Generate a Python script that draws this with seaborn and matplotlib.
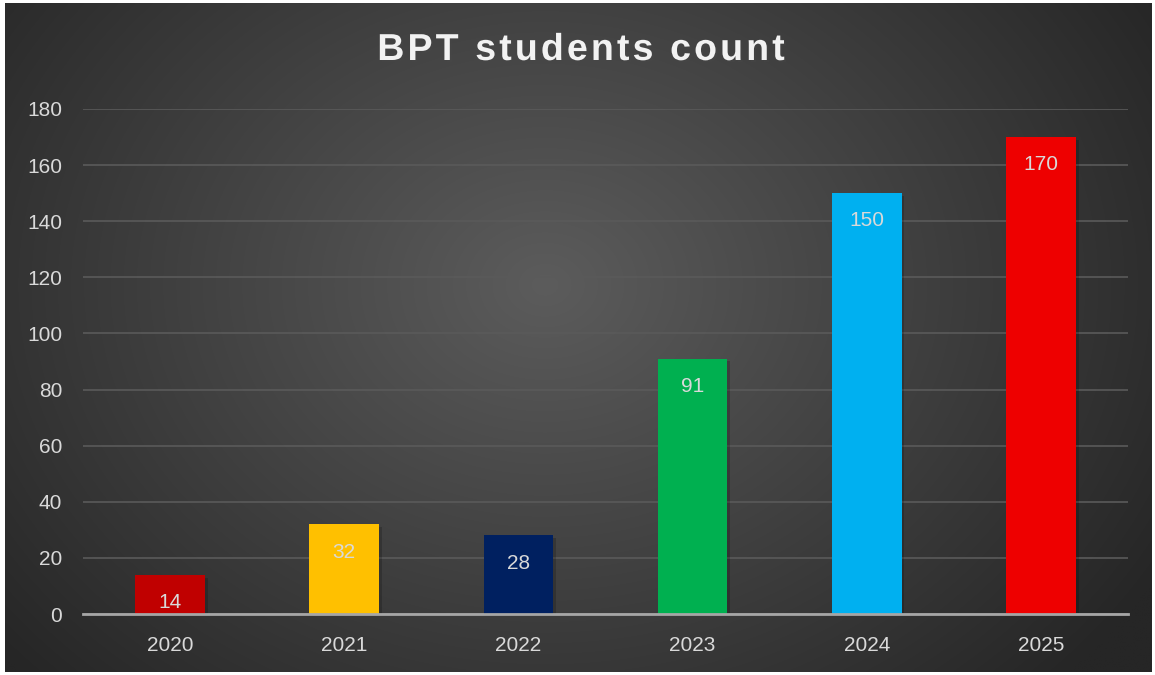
import numpy as np
import pandas as pd
import matplotlib
matplotlib.use("Agg")
import matplotlib.pyplot as plt
import matplotlib.patheffects as pe
import seaborn as sns

years = ["2020", "2021", "2022", "2023", "2024", "2025"]
counts = [14, 32, 28, 91, 150, 170]
bar_colors = ["#C00000", "#FFC000", "#002060", "#00B050", "#00B0F0", "#EE0000"]
yticks = [0, 20, 40, 60, 80, 100, 120, 140, 160, 180]
title = "BPT students count"

sns.set_theme(style="dark")
plt.rcParams['font.family'] = ['Liberation Sans', 'DejaVu Sans']

df = pd.DataFrame({"year": years, "count": counts})

fig = plt.figure(figsize=(11.55, 6.75), dpi=100, facecolor="white")

# background panel with radial gradient
bg = fig.add_axes([5/1155, 3/675, 1147/1155, 669/675])
bg.set_axis_off()
h, w = 300, 520
yy, xx = np.mgrid[0:h, 0:w]
cx, cy = w * 0.47, h * 0.42
r = np.sqrt(((xx - cx) / (w * 0.62)) ** 2 + ((yy - cy) / (h * 0.85)) ** 2)
r = np.clip(r, 0, 1)
inner = np.array([0x5C, 0x5C, 0x5C]) / 255
outer = np.array([0x26, 0x26, 0x26]) / 255
img = inner[None, None, :] * (1 - r[..., None]) + outer[None, None, :] * r[..., None]
bg.imshow(img, aspect="auto", extent=[0, 1, 0, 1], interpolation="bilinear")
bg.set_xlim(0, 1)
bg.set_ylim(0, 1)

ax = fig.add_axes([83/1155, 61/675, 1045/1155, 505/675])
ax.patch.set_alpha(0)

sns.barplot(data=df, x="year", y="count", hue="year", palette=bar_colors,
            width=0.40, legend=False, ax=ax, saturation=1, zorder=3,
            linewidth=0, edgecolor="none")
for p in ax.patches:
    p.set_path_effects([pe.SimplePatchShadow(offset=(2, -2), shadow_rgbFace="black", alpha=0.18),
                        pe.Normal()])

ax.set_xlim(-0.5, len(years) - 0.5)
ax.set_ylim(0, 180)
ax.set_yticks(yticks)
ax.set_xlabel("")
ax.set_ylabel("")
ax.grid(axis="y", color="#5A5A5A", linewidth=1.2, zorder=0)
ax.grid(axis="x", visible=False)
for s in ["top", "right", "left"]:
    ax.spines[s].set_visible(False)
ax.spines["bottom"].set_color("#A6A6A6")
ax.spines["bottom"].set_linewidth(2)
ax.spines["bottom"].set_zorder(4)
ax.tick_params(axis="both", length=0, labelsize=15, labelcolor="#D9D9D9")
ax.tick_params(axis="y", pad=15)
ax.tick_params(axis="x", pad=16)

for i, v in enumerate(counts):
    ax.annotate(str(v), xy=(i, v), xytext=(0, -20), textcoords="offset points",
                ha="center", va="center", fontsize=15, color="#D9D9D9", zorder=5)

spaced_title = "\u200a".join(title)
fig.text(581/1155, 1 - 50/675, spaced_title, ha="center", va="center",
         fontsize=27, fontweight="bold", color="#F2F2F2",
         path_effects=[pe.withSimplePatchShadow(offset=(1.5, -1.5), alpha=0.3)])

fig.savefig("out.png", dpi=100, facecolor="white")
